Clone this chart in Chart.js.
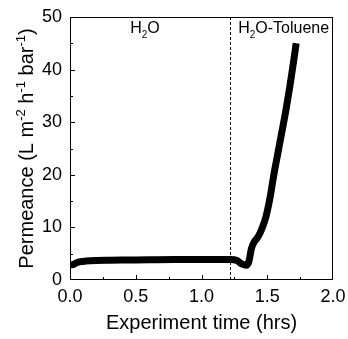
<!DOCTYPE html>
<html>
<head>
<meta charset="utf-8">
<script src="https://cdn.jsdelivr.net/npm/chart.js@4"></script>
<style>
  html, body { margin: 0; padding: 0; background: #fff; }
  #wrap { width: 348px; height: 339px; }
</style>
</head>
<body>
<div id="wrap"><canvas id="chart-permeance" width="348" height="339"></canvas></div>
<script>
// experiment time (hrs) and permeance (L m-2 h-1 bar-1)
const timeHrs = [0, 0.02, 0.05, 0.08, 0.12, 0.2, 0.3, 0.45, 0.6, 0.8, 1.0, 1.15, 1.22, 1.27, 1.31, 1.34, 1.36, 1.38, 1.40, 1.43, 1.46, 1.49, 1.52, 1.55, 1.58, 1.61, 1.64, 1.67, 1.70, 1.72];
const permeance = [2.9, 2.9, 3.3, 3.5, 3.6, 3.7, 3.75, 3.8, 3.85, 3.9, 3.9, 3.9, 3.9, 3.7, 3.0, 2.8, 3.5, 6.0, 7.2, 8.2, 9.8, 12.0, 15.5, 20.0, 24.0, 28.0, 32.0, 36.5, 41.5, 45.0];
const switchTime = 1.22;
const phaseLabels = [
  { x: 0.57, parts: ['H', '2', 'O'] },
  { x: 1.625, parts: ['H', '2', 'O-Toluene'] },
];
const xTicks = [0, 0.5, 1.0, 1.5, 2.0];
const yTicks = [0, 10, 20, 30, 40, 50];

const FONT = '"Liberation Sans", Arial, sans-serif';

// draws text pieces with sub/superscripts, returns total width
function drawScripted(c, pieces, x, y, size, measureOnly) {
  let cx = x;
  pieces.forEach((p) => {
    const small = p.sub || p.sup;
    c.font = `${small ? Math.round(size * 0.65) : size}px ${FONT}`;
    const dy = p.sub ? size * 0.3 : p.sup ? -size * 0.4 : 0;
    if (!measureOnly) c.fillText(p.t, cx, y + dy);
    cx += c.measureText(p.t).width;
  });
  return cx - x;
}

const framePlugin = {
  id: 'frame',
  afterDraw(chart) {
    const c = chart.ctx;
    const { left, right, top, bottom } = chart.chartArea;
    const xs = chart.scales.x, ys = chart.scales.y;
    c.save();
    c.strokeStyle = '#000';
    c.lineWidth = 1;
    c.strokeRect(left + 0.5, top + 0.5, right - left - 1, bottom - top - 1);

    // inward ticks, minor ones shorter
    c.beginPath();
    for (let v = 0.25; v < 2; v += 0.25) {
      const px = Math.round(xs.getPixelForValue(v)) + 0.5;
      const len = Math.abs(v * 2 - Math.round(v * 2)) < 1e-6 ? 5 : 3;
      c.moveTo(px, bottom); c.lineTo(px, bottom - len);
    }
    for (let v = 5; v < 50; v += 5) {
      const py = Math.round(ys.getPixelForValue(v)) + 0.5;
      const len = v % 10 === 0 ? 5 : 3;
      c.moveTo(left, py); c.lineTo(left + len, py);
    }
    c.stroke();

    // feed switch
    const sx = Math.round(xs.getPixelForValue(switchTime)) + 0.5;
    c.setLineDash([3, 2]);
    c.beginPath();
    c.moveTo(sx, top); c.lineTo(sx, bottom);
    c.stroke();
    c.setLineDash([]);

    c.fillStyle = '#000';
    c.textBaseline = 'alphabetic';
    c.textAlign = 'left';
    phaseLabels.forEach((lab) => {
      const pieces = [{ t: lab.parts[0] }, { t: lab.parts[1], sub: true }, { t: lab.parts[2] }];
      const w = drawScripted(c, pieces, 0, 0, 16, true);
      drawScripted(c, pieces, xs.getPixelForValue(lab.x) - w / 2, top + 16, 16);
    });

    const yPieces = [
      { t: 'Permeance (L m' }, { t: '-2', sup: true }, { t: ' h' }, { t: '-1', sup: true },
      { t: ' bar' }, { t: '-1', sup: true }, { t: ')' },
    ];
    c.translate(33, (top + bottom) / 2);
    c.rotate(-Math.PI / 2);
    const tw = drawScripted(c, yPieces, 0, 0, 20, true);
    drawScripted(c, yPieces, -tw / 2, 0, 20);
    c.restore();
  }
};

new Chart(document.getElementById('chart-permeance'), {
  type: 'line',
  data: {
    datasets: [{
      data: timeHrs.map((t, i) => ({ x: t, y: permeance[i] })),
      borderColor: '#000',
      borderWidth: 7,
      borderCapStyle: 'butt',
      borderJoinStyle: 'round',
      pointRadius: 0,
      cubicInterpolationMode: 'monotone',
      fill: false,
    }]
  },
  options: {
    responsive: false,
    animation: false,
    layout: { padding: { top: 17, right: 15, left: 0, bottom: 0 } },
    plugins: { legend: { display: false }, tooltip: { enabled: false } },
    scales: {
      x: {
        type: 'linear', min: 0, max: 2,
        afterBuildTicks: (s) => { s.ticks = xTicks.map((v) => ({ value: v })); },
        afterFit: (s) => { s.height = 59; s.paddingRight = 0; s.paddingLeft = 0; },
        grid: { display: false, drawTicks: false },
        border: { display: false },
        ticks: {
          color: '#000', padding: 6,
          font: { family: FONT, size: 18 },
          callback: (v) => Number(v).toFixed(1),
        },
        title: {
          display: true, text: 'Experiment time (hrs)', color: '#000',
          font: { family: FONT, size: 20 }, padding: { top: 6 },
        },
      },
      y: {
        type: 'linear', min: 0, max: 50,
        afterBuildTicks: (s) => { s.ticks = yTicks.map((v) => ({ value: v })); },
        afterFit: (s) => { s.width = 70; s.paddingTop = 0; s.paddingBottom = 0; },
        grid: { display: false, drawTicks: false },
        border: { display: false },
        ticks: {
          color: '#000', padding: 8,
          font: { family: FONT, size: 18 },
        },
      },
    },
  },
  plugins: [framePlugin],
});
</script>
</body>
</html>
